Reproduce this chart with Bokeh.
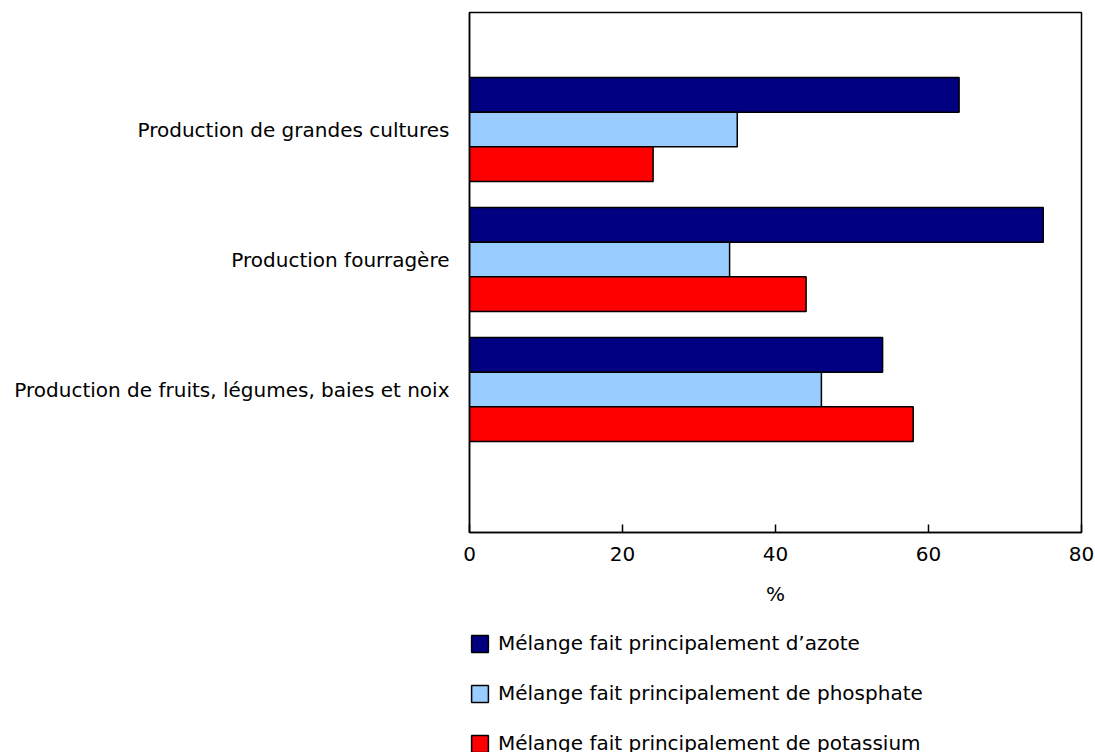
from bokeh.plotting import figure
from bokeh.models import ColumnDataSource, FixedTicker, Legend, LegendItem, Range1d
from bokeh.layouts import column
from bokeh.embed import file_html
from bokeh.resources import INLINE

categories = ["Production de grandes cultures", "Production fourragère",
              "Production de fruits, légumes, baies et noix"]
series = ["Mélange fait principalement d’azote",
          "Mélange fait principalement de phosphate",
          "Mélange fait principalement de potassium"]
azote = [64, 75, 54]
phosphate = [35, 34, 46]
potassium = [24, 44, 58]
colors = ["#000080", "#99CCFF", "#FF0000"]
x_ticks = [0, 20, 40, 60, 80]

FONT = "DejaVu Sans"
FS = "20px"

p = figure(width=1095, height=610, output_backend="svg", toolbar_location=None,
           x_range=Range1d(0, 80), y_range=Range1d(-3.1, 0.9),
           min_border_left=469, min_border_top=12, min_border_right=14,
           min_border_bottom=78)

ypos = [-i for i in range(len(categories))]
bh = 0.8 / 3
offsets = [bh, 0.0, -bh]
sources = []
for vals, col, off in zip([azote, phosphate, potassium], colors, offsets):
    src = ColumnDataSource(dict(y=[y + off for y in ypos], right=vals))
    sources.append(src)
    p.hbar(y="y", left=0, right="right", height=bh, source=src,
           fill_color=col, line_color="black", line_width=1.5)

p.xgrid.visible = False
p.ygrid.visible = False
p.outline_line_color = "black"
p.outline_line_alpha = 1
p.outline_line_width = 1.5

p.xaxis.ticker = FixedTicker(ticks=x_ticks)
p.xaxis.major_tick_in = 8
p.xaxis.major_tick_out = 0
p.xaxis.minor_tick_line_color = None
p.xaxis.axis_line_color = "black"
p.xaxis.axis_line_width = 1.5
p.xaxis.major_tick_line_color = "black"
p.xaxis.major_tick_line_width = 1.5
p.xaxis.major_label_text_font = FONT
p.xaxis.major_label_text_font_size = FS
p.xaxis.major_label_text_color = "black"
p.xaxis.major_label_standoff = 14
p.xaxis.axis_label = "%"
p.xaxis.axis_label_text_font = FONT
p.xaxis.axis_label_text_font_size = FS
p.xaxis.axis_label_text_font_style = "normal"
p.xaxis.axis_label_text_color = "black"
p.xaxis.axis_label_standoff = 18

p.yaxis.ticker = FixedTicker(ticks=ypos)
p.yaxis.major_label_overrides = {y: c for y, c in zip(ypos, categories)}
p.yaxis.major_tick_in = 0
p.yaxis.major_tick_out = 0
p.yaxis.minor_tick_line_color = None
p.yaxis.axis_line_color = "black"
p.yaxis.axis_line_width = 1.5
p.yaxis.major_label_text_font = FONT
p.yaxis.major_label_text_font_size = FS
p.yaxis.major_label_text_color = "black"
p.yaxis.major_label_standoff = 20

# legend panel below the chart (hidden renderers sharing the bar data)
p2 = figure(width=1095, height=142, output_backend="svg", toolbar_location=None,
            x_range=Range1d(0, 80), y_range=Range1d(-3.1, 0.9),
            x_axis_type=None, y_axis_type=None,
            min_border_left=468, min_border_right=0, min_border_top=21,
            min_border_bottom=0)
p2.xgrid.visible = False
p2.ygrid.visible = False
p2.outline_line_color = None
items = []
for src, col, name in zip(sources, colors, series):
    r = p2.hbar(y="y", left=0, right="right", height=bh, source=src,
                fill_color=col, line_color="black", line_width=1.5)
    r.visible = False
    items.append(LegendItem(label=name, renderers=[r]))

legend = Legend(items=items, orientation="vertical", location="top_left",
                label_text_font=FONT, label_text_font_size=FS,
                label_text_color="black",
                glyph_width=21, glyph_height=21, label_height=21,
                label_standoff=8, spacing=26, padding=0, margin=0,
                inactive_fill_alpha=0, click_policy="none",
                border_line_color=None, background_fill_alpha=0)
p2.add_layout(legend, "center")

open("out.html", "w").write(file_html(column(p, p2), INLINE))
